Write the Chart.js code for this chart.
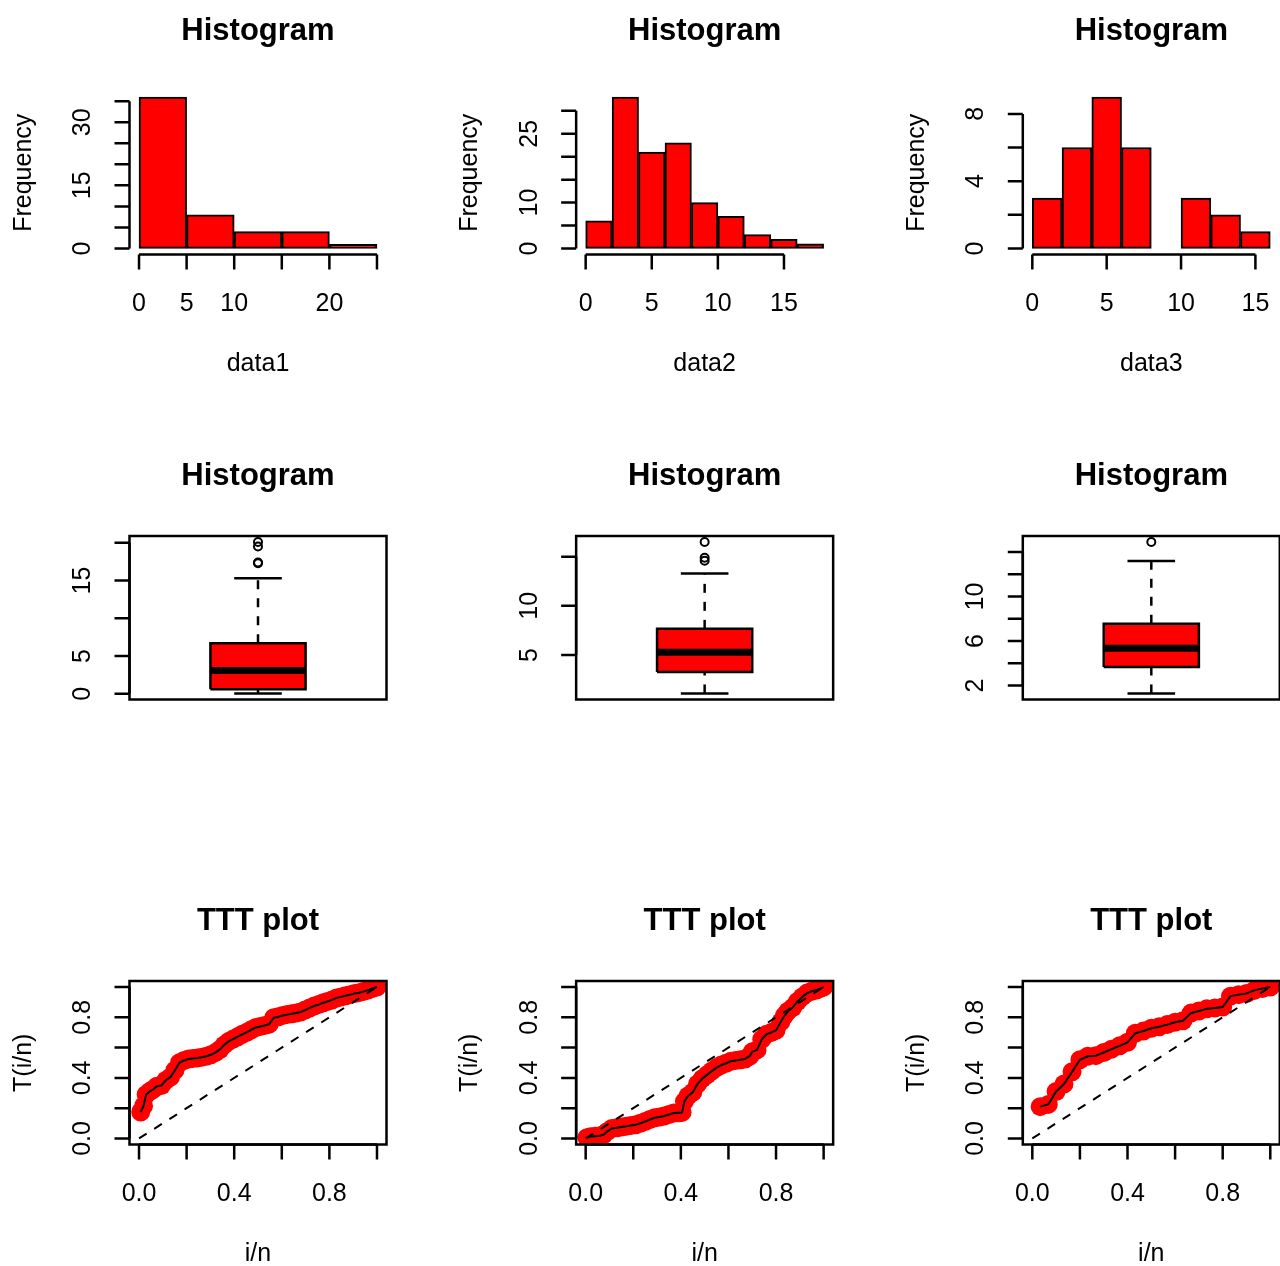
<!DOCTYPE html>
<html>
<head>
<meta charset="utf-8">
<title>Histogram / TTT plot</title>
<script src="https://cdn.jsdelivr.net/npm/chart.js@4.4.1/dist/chart.umd.min.js"></script>
<style>
  html, body { margin: 0; padding: 0; background: #fff; overflow: hidden; }
  body { width: 1280px; height: 1266px; position: relative; }
  canvas { position: absolute; }
</style>
</head>
<body>
<script>
// ---- data ----
const hist1Breaks = [0, 5, 10, 15, 20, 25];
const hist1Counts = [36, 8, 4, 4, 1];
const hist2Breaks = [0, 2, 4, 6, 8, 10, 12, 14, 16, 18];
const hist2Counts = [6, 33, 21, 23, 10, 7, 3, 2, 1];
const hist3Breaks = [0, 2, 4, 6, 8, 10, 12, 14, 16];
const hist3Counts = [3, 6, 9, 6, 0, 3, 2, 1];

// lower whisker, Q1, median, Q3, upper whisker
const box1Stats = [0.05, 0.62, 3.1, 6.7, 15.3];
const box1Out = [17.3, 17.4, 19.5, 20.1];
const box2Stats = [1.08, 3.26, 5.28, 7.66, 13.29];
const box2Out = [14.6, 14.9, 16.5];
const box3Stats = [1.28, 3.66, 5.35, 7.55, 13.19];
const box3Out = [14.9];

const ttt1X = [0.007, 0.019, 0.030, 0.045, 0.060, 0.075, 0.094, 0.113, 0.132, 0.151, 0.170, 0.189, 0.208, 0.226, 0.245, 0.264, 0.283, 0.302, 0.321, 0.340, 0.358, 0.377, 0.396, 0.415, 0.434, 0.453, 0.472, 0.491, 0.509, 0.528, 0.547, 0.566, 0.585, 0.604, 0.623, 0.642, 0.660, 0.679, 0.698, 0.717, 0.736, 0.755, 0.774, 0.792, 0.811, 0.830, 0.849, 0.868, 0.887, 0.906, 0.925, 0.943, 0.962, 0.981, 1.000];
const ttt1Y = [0.175, 0.215, 0.290, 0.310, 0.325, 0.345, 0.350, 0.385, 0.405, 0.450, 0.500, 0.515, 0.525, 0.528, 0.532, 0.537, 0.543, 0.553, 0.567, 0.588, 0.618, 0.641, 0.657, 0.672, 0.688, 0.702, 0.718, 0.733, 0.740, 0.746, 0.755, 0.797, 0.804, 0.812, 0.818, 0.824, 0.829, 0.835, 0.848, 0.862, 0.875, 0.884, 0.896, 0.905, 0.915, 0.928, 0.935, 0.942, 0.950, 0.957, 0.963, 0.970, 0.980, 0.990, 1.000];

const ttt2X = [0.005, 0.02, 0.04, 0.06, 0.075, 0.09, 0.11, 0.13, 0.15, 0.17, 0.19, 0.21, 0.23, 0.25, 0.27, 0.29, 0.31, 0.33, 0.35, 0.37, 0.39, 0.405, 0.415, 0.43, 0.45, 0.47, 0.49, 0.51, 0.53, 0.55, 0.57, 0.59, 0.61, 0.63, 0.65, 0.67, 0.69, 0.70, 0.72, 0.74, 0.76, 0.78, 0.80, 0.82, 0.835, 0.85, 0.87, 0.89, 0.91, 0.93, 0.95, 0.97, 0.985, 1.0];
const ttt2Y = [0.005, 0.012, 0.015, 0.018, 0.025, 0.045, 0.066, 0.070, 0.075, 0.080, 0.085, 0.090, 0.100, 0.112, 0.125, 0.137, 0.142, 0.148, 0.158, 0.168, 0.170, 0.172, 0.245, 0.280, 0.305, 0.360, 0.395, 0.420, 0.445, 0.468, 0.485, 0.497, 0.510, 0.515, 0.520, 0.525, 0.545, 0.572, 0.585, 0.655, 0.688, 0.700, 0.715, 0.770, 0.810, 0.840, 0.865, 0.905, 0.935, 0.960, 0.972, 0.980, 0.990, 1.000];

const ttt3X = [0.033, 0.067, 0.100, 0.133, 0.167, 0.200, 0.233, 0.267, 0.300, 0.333, 0.367, 0.400, 0.433, 0.467, 0.500, 0.533, 0.567, 0.600, 0.633, 0.667, 0.700, 0.733, 0.767, 0.800, 0.833, 0.867, 0.900, 0.933, 0.967, 1.000];
const ttt3Y = [0.210, 0.225, 0.310, 0.360, 0.440, 0.520, 0.543, 0.547, 0.568, 0.590, 0.612, 0.635, 0.695, 0.710, 0.728, 0.738, 0.752, 0.768, 0.778, 0.828, 0.842, 0.856, 0.862, 0.868, 0.940, 0.950, 0.958, 0.978, 0.990, 1.000];

// ---- layout (R par(mfrow = c(3,3)) look) ----
const COL_STEP = 446.65, ROW_STEP = 445;
const PLOT_LEFT = 129.5, PLOT_TOP = 91, PLOT_W = 257, PLOT_H = 163.5;
const CANVAS_W = 447, CANVAS_H = 445;
const TICK_LEN = 15, LABEL_GAP = 23;
const FONT = '"Liberation Sans", Arial, Helvetica, sans-serif';
const RED = '#ff0000';

function drawXAxis(ctx, scale, y) {
  const ticks = scale.ticks;
  const pos = ticks.map(t => scale.getPixelForValue(t.value));
  ctx.beginPath();
  ctx.moveTo(pos[0], y);
  ctx.lineTo(pos[pos.length - 1], y);
  pos.forEach(p => { ctx.moveTo(p, y); ctx.lineTo(p, y + TICK_LEN); });
  ctx.stroke();
  let lastEnd = -Infinity;
  ticks.forEach((t, i) => {
    const w = ctx.measureText(t.label).width;
    if (pos[i] - w / 2 - lastEnd < LABEL_GAP) return;
    ctx.fillText(t.label, pos[i], y + 56);
    lastEnd = pos[i] + w / 2;
  });
}

function drawYAxis(ctx, scale, x) {
  const ticks = scale.ticks;
  const pos = ticks.map(t => scale.getPixelForValue(t.value));
  ctx.beginPath();
  ctx.moveTo(x, pos[0]);
  ctx.lineTo(x, pos[pos.length - 1]);
  pos.forEach(p => { ctx.moveTo(x, p); ctx.lineTo(x - TICK_LEN, p); });
  ctx.stroke();
  let lastEnd = Infinity;
  ticks.forEach((t, i) => {
    const w = ctx.measureText(t.label).width;
    if (lastEnd - (pos[i] + w / 2) < LABEL_GAP) return;
    ctx.save();
    ctx.translate(x - 39.5, pos[i]);
    ctx.rotate(-Math.PI / 2);
    ctx.fillText(t.label, 0, 0);
    ctx.restore();
    lastEnd = pos[i] - w / 2;
  });
}

// draws title, axes, labels and frame the way base R graphics does
const rStyle = {
  id: 'rstyle',
  afterDraw(chart, args, opts) {
    const ctx = chart.ctx;
    const a = chart.chartArea;
    ctx.save();
    ctx.strokeStyle = '#000';
    ctx.fillStyle = '#000';
    ctx.lineWidth = 2.5;
    if (opts.frame) ctx.strokeRect(a.left, a.top, a.right - a.left, a.bottom - a.top);
    ctx.textAlign = 'center';
    ctx.textBaseline = 'alphabetic';
    ctx.font = 'bold 31px ' + FONT;
    ctx.fillText(opts.title, (a.left + a.right) / 2, a.top - 51);
    ctx.font = '25px ' + FONT;
    if (opts.xAxis) drawXAxis(ctx, chart.scales.x, a.bottom);
    if (opts.yAxis) drawYAxis(ctx, chart.scales.y, a.left);
    if (opts.xlab) ctx.fillText(opts.xlab, (a.left + a.right) / 2, a.bottom + 116);
    if (opts.ylab) {
      ctx.translate(a.left - 99, (a.top + a.bottom) / 2);
      ctx.rotate(-Math.PI / 2);
      ctx.fillText(opts.ylab, 0, 0);
    }
    ctx.restore();
  }
};

// linear scale with R's 4% range expansion and ticks at multiples of step
function rScale(min, max, step, digits) {
  const pad = (max - min) * 0.04;
  return {
    type: 'linear',
    display: false,
    offset: false,
    min: min - pad,
    max: max + pad,
    ticks: {
      stepSize: step,
      includeBounds: false,
      autoSkip: false,
      callback: v => Number(v).toFixed(digits)
    },
    afterBuildTicks: s => {
      s.ticks = s.ticks.filter(t => Math.abs(t.value / step - Math.round(t.value / step)) < 1e-6);
    }
  };
}

function baseOptions(scales, rOpts) {
  return {
    responsive: false,
    animation: false,
    events: [],
    scales: scales,
    plugins: { legend: { display: false }, tooltip: { enabled: false }, rstyle: rOpts }
  };
}

function makePanel(col, row, config) {
  const absLeft = PLOT_LEFT + col * COL_STEP;
  const canvasLeft = Math.floor(col * COL_STEP);
  const padLeft = absLeft - canvasLeft;
  const canvas = document.createElement('canvas');
  canvas.width = CANVAS_W;
  canvas.height = CANVAS_H;
  canvas.style.left = canvasLeft + 'px';
  canvas.style.top = (row * ROW_STEP) + 'px';
  canvas.style.width = CANVAS_W + 'px';
  canvas.style.height = CANVAS_H + 'px';
  document.body.appendChild(canvas);
  config.plugins = [rStyle];
  config.options.layout = {
    padding: {
      left: padLeft,
      top: PLOT_TOP,
      right: CANVAS_W - padLeft - PLOT_W,
      bottom: CANVAS_H - PLOT_TOP - PLOT_H
    }
  };
  return new Chart(canvas, config);
}

function histChart(breaks, counts, xStep, yStep, xlab) {
  const bars = counts.map((c, i) => ({ x: (breaks[i] + breaks[i + 1]) / 2, y: c }));
  return {
    type: 'bar',
    data: {
      datasets: [{
        data: bars,
        backgroundColor: RED,
        borderColor: '#000',
        borderWidth: 2,
        borderSkipped: false,
        barPercentage: 1,
        categoryPercentage: 1
      }]
    },
    options: baseOptions({
      x: rScale(breaks[0], breaks[breaks.length - 1], xStep, 0),
      y: rScale(0, Math.max(...counts), yStep, 0)
    }, { title: 'Histogram', xlab: xlab, ylab: 'Frequency', xAxis: true, yAxis: true })
  };
}

function seg(x0, y0, x1, y1, extra) {
  return Object.assign({
    data: [{ x: x0, y: y0 }, { x: x1, y: y1 }],
    borderColor: '#000',
    borderWidth: 2.5,
    pointRadius: 0,
    fill: false
  }, extra || {});
}

function boxChart(stats, out, yStep) {
  const [lo, q1, med, q3, hi] = stats;
  const L = 0.8, R = 1.2;
  const all = stats.concat(out);
  return {
    type: 'line',
    data: {
      datasets: [
        seg(L, q1, R, q1, { borderWidth: 0, order: 6 }),
        seg(L, q3, R, q3, { borderWidth: 0, fill: '-1', backgroundColor: RED, order: 5 }),
        { data: [{ x: L, y: q1 }, { x: R, y: q1 }, { x: R, y: q3 }, { x: L, y: q3 }, { x: L, y: q1 }],
          borderColor: '#000', borderWidth: 2.5, pointRadius: 0, fill: false, order: 2 },
        seg(L, med, R, med, { borderWidth: 7, order: 1 }),
        seg(1, q3, 1, hi, { borderDash: [9, 9], order: 3 }),
        seg(1, lo, 1, q1, { borderDash: [9, 9], order: 3 }),
        seg(0.9, hi, 1.1, hi, { order: 3 }),
        seg(0.9, lo, 1.1, lo, { order: 3 }),
        { data: out.map(v => ({ x: 1, y: v })), showLine: false, pointRadius: 4, pointBorderWidth: 2,
          pointBackgroundColor: 'rgba(0,0,0,0)', pointBorderColor: '#000', order: 0 }
      ]
    },
    options: baseOptions({
      x: rScale(0.5, 1.5, 1, 0),
      y: rScale(Math.min(...all), Math.max(...all), yStep, 0)
    }, { title: 'Histogram', frame: true, yAxis: true })
  };
}

function tttChart(xs, ys) {
  const pts = xs.map((x, i) => ({ x: x, y: ys[i] }));
  return {
    type: 'line',
    data: {
      datasets: [
        { data: pts, showLine: false, pointRadius: 9.5, pointBorderWidth: 0,
          pointBackgroundColor: RED, clip: 0, order: 3 },
        { data: pts, borderColor: '#000', borderWidth: 2, pointRadius: 0,
          borderJoinStyle: 'round', fill: false, order: 1 },
        seg(0, 0, 1, 1, { borderWidth: 2, borderDash: [9, 9], order: 2 })
      ]
    },
    options: baseOptions({
      x: rScale(0, 1, 0.2, 1),
      y: rScale(0, 1, 0.2, 1)
    }, { title: 'TTT plot', xlab: 'i/n', ylab: 'T(i/n)', frame: true, xAxis: true, yAxis: true })
  };
}

makePanel(0, 0, histChart(hist1Breaks, hist1Counts, 5, 5, 'data1'));
makePanel(1, 0, histChart(hist2Breaks, hist2Counts, 5, 5, 'data2'));
makePanel(2, 0, histChart(hist3Breaks, hist3Counts, 5, 2, 'data3'));

makePanel(0, 1, boxChart(box1Stats, box1Out, 5));
makePanel(1, 1, boxChart(box2Stats, box2Out, 5));
makePanel(2, 1, boxChart(box3Stats, box3Out, 2));

makePanel(0, 2, tttChart(ttt1X, ttt1Y));
makePanel(1, 2, tttChart(ttt2X, ttt2Y));
makePanel(2, 2, tttChart(ttt3X, ttt3Y));
</script>
</body>
</html>
